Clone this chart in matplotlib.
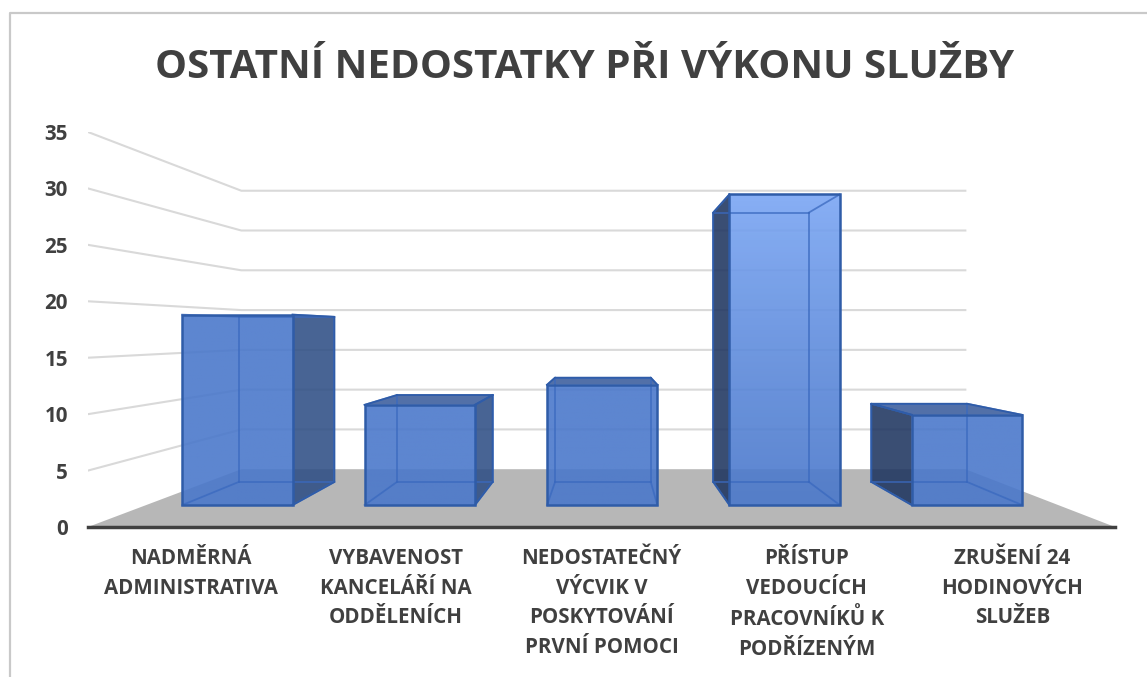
import numpy as np
import matplotlib
matplotlib.use("Agg")
import matplotlib.pyplot as plt
from matplotlib.colors import to_rgb
from matplotlib.lines import Line2D
from matplotlib.patches import Polygon

plt.rcParams['font.family'] = ['Open Sans', 'DejaVu Sans']

title = 'OSTATNÍ NEDOSTATKY PŘI VÝKONU SLUŽBY'
categories = ['NADMĚRNÁ\nADMINISTRATIVA',
              'VYBAVENOST\nKANCELÁŘÍ NA\nODDĚLENÍCH',
              'NEDOSTATEČNÝ\nVÝCVIK V\nPOSKYTOVÁNÍ\nPRVNÍ POMOCI',
              'PŘÍSTUP\nVEDOUCÍCH\nPRACOVNÍKŮ K\nPODŘÍZENÝM',
              'ZRUŠENÍ 24\nHODINOVÝCH\nSLUŽEB']
values = [19, 10, 12, 31, 9]
y_ticks = [0, 5, 10, 15, 20, 25, 30, 35]

# perspektiva: uběžník v datových souřadnicích a hloubky (měřítka)
VX, VY = 2.53, 17.36
WALL = 0.705
BAR_FRONT = 0.888
BAR_BACK = 0.77
BAR_W = 0.605

TEXT = '#404040'
GRID = '#d9d9d9'
EDGE = '#2f5ca8'
INNER = '#3a69bf'
BASE = np.array(to_rgb('#4a78cb'))
LIGHT = np.array(to_rgb('#7aa6f4'))


def proj(x, v, s):
    return (VX + (x - VX) * s, VY + (v - VY) * s)


fig = plt.figure(figsize=(11.47, 6.77), dpi=100)
ax = fig.add_axes([88 / 1147, 1 - 527 / 677, (1115 - 88) / 1147, (527 - 132) / 677])

# podlaha
ax.add_patch(Polygon([proj(0, 0, 1), proj(5, 0, 1), proj(5, 0, WALL), proj(0, 0, WALL)],
                     closed=True, fc='#b7b7b7', ec='none', zorder=1))

# mřížka - zadní a boční stěna
for v in y_ticks[1:]:
    xs, ys = zip(proj(0, v, 1), proj(0, v, WALL), proj(5, v, WALL))
    ax.plot(xs, ys, color=GRID, lw=1.5, zorder=2, solid_joinstyle='miter')

for i, v in enumerate(values):
    x0 = i + 0.5 - BAR_W / 2
    x1 = i + 0.5 + BAR_W / 2
    fbl, fbr = proj(x0, 0, BAR_FRONT), proj(x1, 0, BAR_FRONT)
    ftl, ftr = proj(x0, v, BAR_FRONT), proj(x1, v, BAR_FRONT)
    bbl, bbr = proj(x0, 0, BAR_BACK), proj(x1, 0, BAR_BACK)
    btl, btr = proj(x0, v, BAR_BACK), proj(x1, v, BAR_BACK)

    # tmavé boční stěny jen tam, kde vyčnívají z přední stěny
    if btl[0] < ftl[0]:
        ax.add_patch(Polygon([fbl, ftl, btl, bbl], closed=True, fc='#1f3560', alpha=0.88, ec='none', zorder=3))
    if btr[0] > ftr[0]:
        ax.add_patch(Polygon([fbr, ftr, btr, bbr], closed=True, fc='#2f4f85', alpha=0.88, ec='none', zorder=3))
    if btl[1] > ftl[1]:
        ax.add_patch(Polygon([ftl, ftr, btr, btl], closed=True, fc='#3f619f', alpha=0.9, ec='none', zorder=3))

    # přední stěna s přechodem (výrazný jen u nejvyššího sloupce)
    t = max(0, (v - 19) / 12)
    grad = np.linspace(0, 1, 128)[:, None, None] ** 1.2 * t
    img = BASE + (LIGHT - BASE) * grad
    im = ax.imshow(img, extent=(ftl[0], ftr[0], fbl[1], ftl[1]), origin='lower',
                   aspect='auto', alpha=0.9, zorder=4)
    im.set_clip_path(Polygon([fbl, fbr, ftr, ftl], closed=True, transform=ax.transData))

    # vnitřní hrany
    for a, b in [(bbl, bbr), (bbl, btl), (bbr, btr), (btl, btr),
                 (fbl, bbl), (fbr, bbr), (ftl, btl), (ftr, btr)]:
        ax.plot([a[0], b[0]], [a[1], b[1]], color=INNER, lw=1.3, alpha=0.75, zorder=5)
    # přední obrys
    ax.add_patch(Polygon([fbl, fbr, ftr, ftl], closed=True, fc='none', ec=EDGE, lw=1.8, zorder=6))
    # vnější hrany přesahující část
    if btr[0] > ftr[0]:
        ax.plot([ftr[0], btr[0], bbr[0], fbr[0]], [ftr[1], btr[1], bbr[1], fbr[1]], color=EDGE, lw=1.3, zorder=6)
    if btl[0] < ftl[0]:
        ax.plot([ftl[0], btl[0], bbl[0], fbl[0]], [ftl[1], btl[1], bbl[1], fbl[1]], color=EDGE, lw=1.3, zorder=6)
    if btl[1] > ftl[1]:
        ax.plot([ftl[0], btl[0], btr[0], ftr[0]], [ftl[1], btl[1], btr[1], ftr[1]], color=EDGE, lw=1.3, zorder=6)

ax.set_xlim(0, 5)
ax.set_ylim(0, 35)
ax.patch.set_visible(False)
for s in ['top', 'left', 'right']:
    ax.spines[s].set_visible(False)
ax.spines['bottom'].set_color(TEXT)
ax.spines['bottom'].set_linewidth(2.5)
ax.spines['bottom'].set_zorder(7)

ax.set_yticks(y_ticks)
ax.set_xticks(np.arange(5) + 0.5)
ax.set_xticklabels(categories, linespacing=1.55)
ax.tick_params(axis='y', length=0, pad=14.5, labelsize=14.8, labelcolor=TEXT)
ax.tick_params(axis='x', length=0, pad=15, labelsize=14.8, labelcolor=TEXT)
for lab in ax.get_xticklabels() + ax.get_yticklabels():
    lab.set_fontweight('bold')

fig.text(585 / 1147, 1 - 68 / 677, title, ha='center', va='center', fontsize=29,
         fontweight='bold', color=TEXT)

# rámeček grafu
fig.add_artist(Line2D([10 / 1147, 10 / 1147, 1], [0, 1 - 13 / 677, 1 - 13 / 677], color='#c9c9c9', lw=1.6))

fig.savefig('out.png', dpi=100)
